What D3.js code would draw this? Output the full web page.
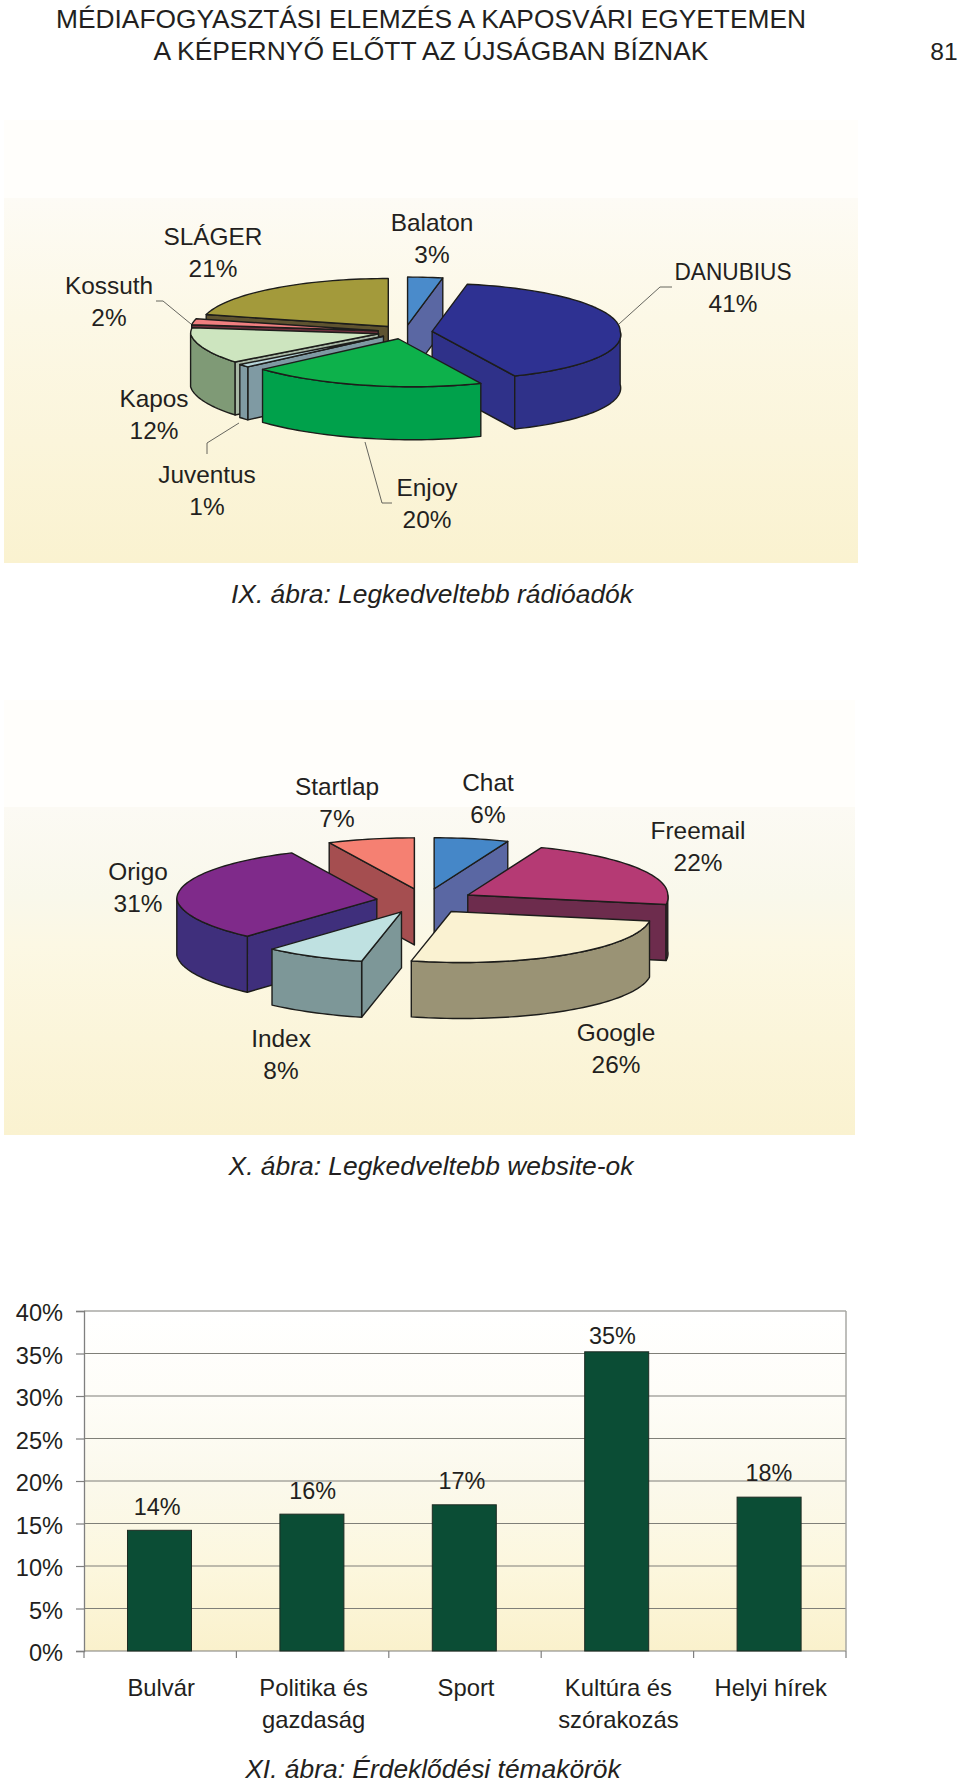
<!DOCTYPE html>
<html>
<head>
<meta charset="utf-8">
<script src="https://cdn.jsdelivr.net/npm/d3@7"></script>
<style>
html,body{margin:0;padding:0;background:#fff}
svg{display:block}
text{font-family:"Liberation Sans",Arial,sans-serif;fill:#231f20}
</style>
</head>
<body>
<div id="chart"></div>
<script>
// ---- data ----
const radioNames   = ["Balaton","DANUBIUS","Enjoy","Juventus","Kapos","Kossuth","SLÁGER"];
const radioValues  = [3,41,20,1,12,2,21];
const webNames     = ["Chat","Freemail","Google","Index","Origo","Startlap"];
const webValues    = [6,22,26,8,31,7];
const topicLines   = [["Bulvár"],["Politika és","gazdaság"],["Sport"],["Kultúra és","szórakozás"],["Helyi hírek"]];
const topicValues  = [14.2,16.1,17.2,35.2,18.1];
const percentTicks = [0,5,10,15,20,25,30,35,40];

const titleLines = ["MÉDIAFOGYASZTÁSI ELEMZÉS A KAPOSVÁRI EGYETEMEN","A KÉPERNYŐ ELŐTT AZ ÚJSÁGBAN BÍZNAK"];
const pageNumber = "81";
const captions = ["IX. ábra: Legkedveltebb rádióadók","X. ábra: Legkedveltebb website-ok","XI. ábra: Érdeklődési témakörök"];

// ---- styles: [top face, outer wall, cut face] ----
const radioColors = [
  ["#4a8bcb","#5a67a3","#5a67a3"],
  ["#2e3192","#2f3189","#2f3189"],
  ["#0db14b","#00a14b","#00a14b"],
  ["#b6d5da","#7f9aa3","#7f9aa3"],
  ["#cde5bf","#7f9a76","#a9b9a6"],
  ["#f07f80","#6e2f3c","#6e2f3c"],
  ["#a39a3b","#6b5f34","#5e5330"]
];
const webColors = [
  ["#4587c8","#5a67a3","#5a67a3"],
  ["#b53a74","#6d2c4d","#6d2c4d"],
  ["#faf2d2","#9a9375","#9a9375"],
  ["#bfe1e1","#7d9798","#7d9798"],
  ["#7f2a8a","#3f2f7c","#3f2f7c"],
  ["#f58072","#a54e50","#a54e50"]
];

// ---- layout ----
const W = 960, H = 1784;
const svg = d3.select("#chart").append("svg").attr("width",W).attr("height",H);
const defs = svg.append("defs");
function grad(id, stops){
  const g = defs.append("linearGradient").attr("id",id).attr("x1",0).attr("y1",0).attr("x2",0).attr("y2",1);
  stops.forEach(s=>g.append("stop").attr("offset",s[0]).attr("stop-color",s[1]));
}
grad("g1",[[0,"#fffefb"],[0.176,"#fffefb"],[0.176,"#fdfbf5"],[0.45,"#fcf8e6"],[1,"#faf2d0"]]);
grad("g2",[[0,"#fffefb"],[0.245,"#fffefb"],[0.245,"#fcfaf4"],[0.45,"#f9f8eb"],[0.56,"#fcf8e4"],[1,"#faf2d0"]]);
grad("g3",[[0,"#ffffff"],[0.25,"#fefdf8"],[0.5,"#fbf9ec"],[0.75,"#fcf7de"],[1,"#faf1cc"]]);

svg.append("rect").attr("x",4).attr("y",120).attr("width",854).attr("height",443).attr("fill","url(#g1)");
svg.append("rect").attr("x",4).attr("y",700).attr("width",851).attr("height",435).attr("fill","url(#g2)");

// titles
function label(x,y,lines,opts={}){
  const size = opts.size||24.4, gap = opts.gap||31.7;
  lines.forEach((t,i)=>{
    const el = svg.append("text").attr("x",x).attr("y",y+i*gap)
      .attr("text-anchor",opts.anchor||"middle").attr("font-size",size)
      .attr("font-style",opts.italic?"italic":null).text(t);
    if(opts.lengths&&opts.lengths[i]) el.attr("textLength",opts.lengths[i]).attr("lengthAdjust","spacingAndGlyphs");
  });
}
label(431,28,[titleLines[0]],{size:26,lengths:[750]});
label(431,60,[titleLines[1]],{size:26,lengths:[555]});
label(944,60,[pageNumber],{size:24.6});

// 3-D exploded pie drawn from d3.pie angles
function pie3d(values, colors, g){
  const slices = d3.pie().sort(null).startAngle(0).endAngle(2*Math.PI)(values);
  const apex = (s,dz=0)=>{
    const mid=(s.startAngle+s.endAngle)/2;
    return [g.cx+g.rx*g.explode*Math.sin(mid), g.cy-g.ry*g.explode*Math.cos(mid)+dz];
  };
  const pt = (s,a,dz=0)=>{
    const o=apex(s), dy=-g.ry*Math.cos(a);
    return [o[0]+g.rx*Math.sin(a)+g.shear*Math.max(0,dy), o[1]+dy+dz];
  };
  const line = d3.line();
  const arcPts = (s,a0,a1,dz)=>{
    const n=Math.max(2,Math.ceil((a1-a0)/0.03));
    return d3.range(n+1).map(i=>pt(s,a0+(a1-a0)*i/n,dz));
  };
  const order = slices.map((s,i)=>({s,i}))
    .sort((a,b)=>Math.cos((b.s.startAngle+b.s.endAngle)/2)-Math.cos((a.s.startAngle+a.s.endAngle)/2));
  const root = svg.append("g").attr("stroke","#1d1d1b").attr("stroke-width",1.4).attr("stroke-linejoin","round");
  order.forEach(({s,i})=>{
    const c=colors[i], a0=s.startAngle, a1=s.endAngle;
    // cut faces that turn towards the viewer
    if(Math.sin(a0)<0){
      root.append("path").attr("fill",c[2]).attr("d",line([apex(s),pt(s,a0),pt(s,a0,g.depth),apex(s,g.depth)])+"Z");
    }
    if(Math.sin(a1)>0){
      root.append("path").attr("fill",c[2]).attr("d",line([apex(s),pt(s,a1),pt(s,a1,g.depth),apex(s,g.depth)])+"Z");
    }
    // outer wall (front half only)
    const w0=Math.max(a0,Math.PI/2), w1=Math.min(a1,3*Math.PI/2);
    if(w1>w0){
      root.append("path").attr("fill",c[1])
        .attr("d",line(arcPts(s,w0,w1,0).concat(arcPts(s,w0,w1,g.depth).reverse()))+"Z");
    }
    // top face
    root.append("path").attr("fill",c[0])
      .attr("d",line([apex(s)].concat(arcPts(s,a0,a1,0)))+"Z");
  });
}

pie3d(radioValues, radioColors, {cx:405,cy:332,rx:188,ry:48,depth:53,explode:0.145,shear:0.3});
pie3d(webValues, webColors, {cx:425,cy:901,rx:200,ry:51,depth:56,explode:0.244,shear:0.2});

// pie labels
const pct = v=>v+"%";
const radioAnchors = [[432,231],[733,280],[427,496],[207,483],[154,407],[109,294],[213,245]];
radioNames.forEach((n,i)=>label(radioAnchors[i][0],radioAnchors[i][1],[n,pct(radioValues[i])],{lengths:n==="DANUBIUS"?[117]:null}));
const webAnchors = [[488,791],[698,839],[616,1041],[281,1047],[138,880],[337,795]];
webNames.forEach((n,i)=>label(webAnchors[i][0],webAnchors[i][1],[n,pct(webValues[i])]));

// leader lines
const leaders = [
  [[156,301],[163,301],[191,324]],
  [[207,454],[207,443],[239,423]],
  [[392,503],[382,503],[365,442]],
  [[672,287],[660,287],[619,324]]
];
svg.append("g").attr("fill","none").attr("stroke","#55554f").attr("stroke-width",0.9)
  .selectAll("path").data(leaders).join("path").attr("d",d3.line());

// captions
label(432,603,[captions[0]],{size:26.4,italic:true});
label(431,1175,[captions[1]],{size:26.4,italic:true});
label(433,1778,[captions[2]],{size:26.4,italic:true});

// ---- bar chart ----
const plot = {l:84,r:846,t:1311,b:1651};
const x = d3.scaleBand().domain(d3.range(topicValues.length)).range([plot.l,plot.r]).paddingInner(0).paddingOuter(0);
const y = d3.scaleLinear().domain([0,40]).range([plot.b,plot.t]);
const barW = x.bandwidth()*0.42;
svg.append("rect").attr("x",plot.l).attr("y",plot.t).attr("width",plot.r-plot.l).attr("height",plot.b-plot.t).attr("fill","url(#g3)");

const yAxis = d3.axisLeft(y).tickValues(percentTicks).tickFormat(d=>d+"%").tickSize(8).tickPadding(13);
const gy = svg.append("g").attr("transform",`translate(${plot.l},0)`).call(yAxis);
gy.select(".domain").attr("stroke","#7f7f7f").attr("stroke-width",1.3);
gy.selectAll(".tick line").attr("stroke","#7f7f7f").attr("stroke-width",1.2);
gy.selectAll(".tick text").attr("font-size",23.6).attr("font-family",'"Liberation Sans"').attr("fill","#231f20").attr("dy","0.42em");
svg.append("g").selectAll("line").data(percentTicks).join("line")
  .attr("x1",plot.l).attr("x2",plot.r).attr("y1",d=>y(d)).attr("y2",d=>y(d))
  .attr("stroke","#7f7f78").attr("stroke-width",1.2);
svg.append("line").attr("x1",plot.r).attr("x2",plot.r).attr("y1",plot.t).attr("y2",plot.b).attr("stroke","#a3a39e").attr("stroke-width",1.4);

const edges = d3.range(topicValues.length+1).map(i=>plot.l+i*x.step());
svg.append("g").selectAll("line").data(edges).join("line")
  .attr("x1",d=>d).attr("x2",d=>d).attr("y1",plot.b).attr("y2",plot.b+7)
  .attr("stroke","#7f7f7f").attr("stroke-width",1.2);

svg.append("g").selectAll("rect").data(topicValues).join("rect")
  .attr("x",(d,i)=>x(i)+x.bandwidth()/2-barW/2-0.7).attr("width",barW)
  .attr("y",d=>y(d)).attr("height",d=>y(0)-y(d))
  .attr("fill","#0b4d35").attr("stroke","#1d2b22").attr("stroke-width",1);

const valueGap = [15,15,16,8,16];
const valueShift = [-3,0,-3,-5,-1];
topicValues.forEach((v,i)=>label(x(i)+x.bandwidth()/2+valueShift[i],y(v)-valueGap[i],[d3.format(".0f")(v)+"%"],{size:23.4}));
topicLines.forEach((ls,i)=>label(x(i)+x.bandwidth()/2+1,1696,ls,{size:23.8,gap:31.5}));
</script>
</body>
</html>
